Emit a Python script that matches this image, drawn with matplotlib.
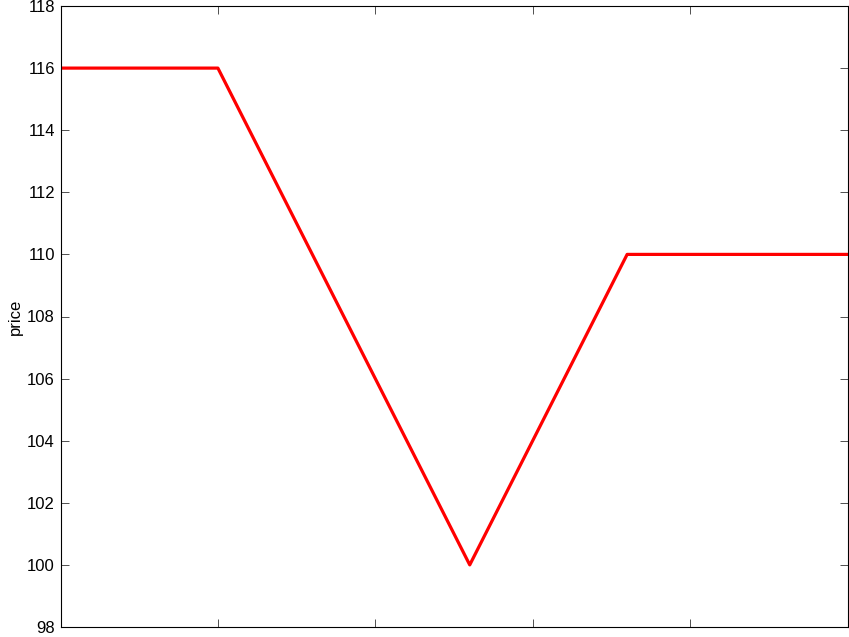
import matplotlib
matplotlib.use("Agg")
import matplotlib.pyplot as plt

# price path
xs = [0, 1, 2.6, 3.6, 5]
price = [116, 116, 100, 110, 110]
yticks = [98, 100, 102, 104, 106, 108, 110, 112, 114, 116, 118]

plt.rcParams['font.family'] = ['Liberation Sans', 'DejaVu Sans']

fig = plt.figure(figsize=(8.49, 6.37), dpi=100)
ax = fig.add_axes([60.5 / 849, 10 / 637, 787 / 849, 621 / 637])
ax.plot(xs, price, color='red', linewidth=2.3)

ax.set_xlim(0, 5)
ax.set_ylim(98, 118)
ax.set_yticks(yticks)
ax.set_xticks([0, 1, 2, 3, 4, 5])
ax.set_xticklabels([])
ax.tick_params(direction='in', top=True, right=True, length=5.5, width=0.6,
               labelsize=12, color='#333333', pad=4)
ax.set_ylabel('price', fontsize=12, labelpad=3)
for s in ax.spines.values():
    s.set_linewidth(0.8)

plt.savefig("out.png", dpi=100)
